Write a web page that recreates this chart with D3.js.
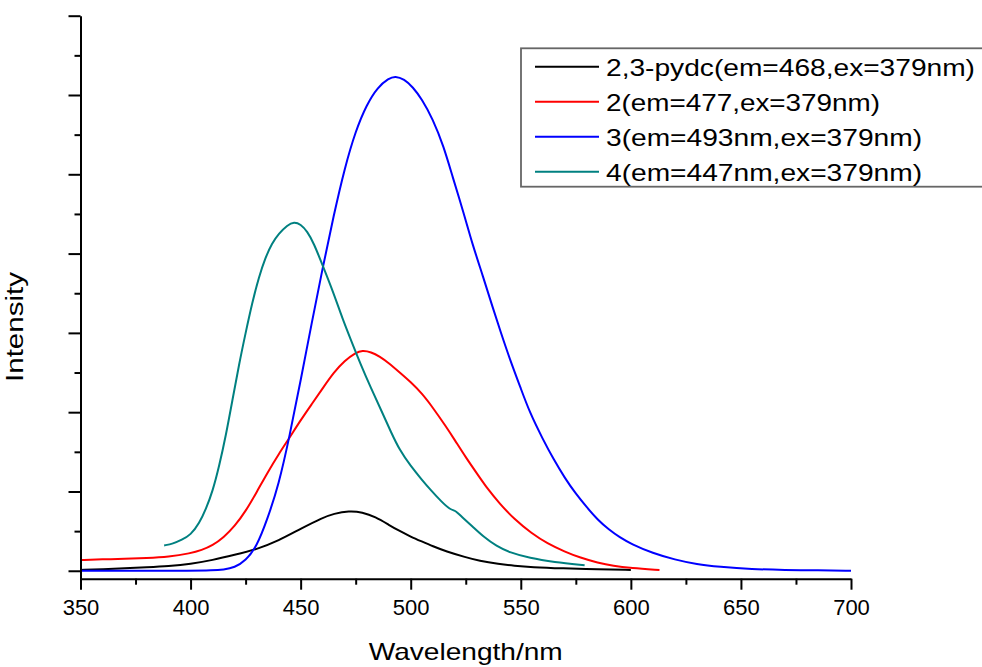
<!DOCTYPE html>
<html>
<head>
<meta charset="utf-8">
<script src="https://cdn.jsdelivr.net/npm/d3@7"></script>
<style>
  body { margin: 0; background: #fff; }
  svg { display: block; font-family: "Liberation Sans", Arial, sans-serif; }
</style>
</head>
<body>
<div id="chart"></div>
<script>
// 2,3-pydc
const pydcWl  = [350, 360, 370, 380, 390, 400, 410, 420, 430, 440, 450, 460, 465, 472, 478, 484, 490, 495, 500, 505, 510, 516, 525, 531, 540, 547, 555, 569, 585, 600];
const pydcInt = [0.01, 0.02, 0.03, 0.045, 0.06, 0.085, 0.135, 0.2, 0.27, 0.38, 0.53, 0.67, 0.72, 0.757, 0.74, 0.68, 0.58, 0.5, 0.43, 0.37, 0.31, 0.245, 0.17, 0.126, 0.085, 0.063, 0.045, 0.03, 0.018, 0.01];

// compound 2
const c2Wl  = [350, 360, 370, 380, 390, 400, 405, 410, 415, 420, 425, 430, 435, 440, 445, 450, 455, 460, 465, 470, 475, 478, 482, 486, 490, 495, 500, 505, 510, 516, 520, 525, 531, 535, 540, 547, 555, 562, 570, 577, 585, 592, 600, 613];
const c2Int = [0.135, 0.145, 0.15, 0.16, 0.175, 0.22, 0.26, 0.32, 0.42, 0.56, 0.75, 0.99, 1.24, 1.47, 1.68, 1.9, 2.1, 2.3, 2.5, 2.65, 2.75, 2.78, 2.76, 2.7, 2.62, 2.5, 2.38, 2.24, 2.06, 1.82, 1.65, 1.43, 1.19, 1.03, 0.86, 0.65, 0.47, 0.345, 0.24, 0.165, 0.1, 0.06, 0.035, 0.01];

// compound 3
const c3Wl  = [350, 380, 400, 410, 415, 420, 425, 430, 435, 440, 445, 450, 455, 460, 465, 470, 475, 480, 485, 490, 493, 497, 501, 505, 510, 515, 519, 524, 528, 533, 537, 541, 545, 550, 554, 560, 565, 570, 575, 580, 585, 590, 595, 600, 610, 620, 630, 640, 655, 670, 685, 700];
const c3Int = [0.0, 0.0, 0.0, 0.005, 0.015, 0.04, 0.13, 0.3, 0.66, 1.08, 1.7, 2.4, 3.12, 3.82, 4.48, 5.08, 5.55, 5.88, 6.1, 6.21, 6.24, 6.2, 6.1, 5.95, 5.7, 5.35, 4.97, 4.52, 4.12, 3.7, 3.34, 3.0, 2.67, 2.3, 2.0, 1.66, 1.4, 1.17, 0.97, 0.8, 0.64, 0.52, 0.42, 0.34, 0.22, 0.14, 0.08, 0.05, 0.02, 0.01, 0.005, 0.0];

// compound 4
const c4Wl  = [388, 392, 396, 400, 404, 407, 410, 413, 416, 419, 422, 425, 428, 431, 434, 437, 440, 444, 447, 450, 453, 456, 460, 465, 469, 473, 477, 482, 487, 491, 495, 500, 505, 509, 514, 518, 520, 521, 524, 528, 533, 539, 545, 554, 565, 579];
const c4Int = [0.32, 0.34, 0.39, 0.45, 0.6, 0.78, 1.0, 1.32, 1.7, 2.15, 2.6, 3.0, 3.38, 3.7, 3.95, 4.13, 4.25, 4.36, 4.4, 4.37, 4.28, 4.13, 3.85, 3.5, 3.18, 2.9, 2.62, 2.3, 2.0, 1.75, 1.52, 1.32, 1.15, 1.02, 0.87, 0.77, 0.76, 0.74, 0.66, 0.56, 0.43, 0.31, 0.23, 0.16, 0.11, 0.07];

const seriesNames = ["2,3-pydc(em=468,ex=379nm)", "2(em=477,ex=379nm)", "3(em=493nm,ex=379nm)", "4(em=447nm,ex=379nm)"];
const seriesColors = ["#000000", "#ff0000", "#0000ff", "#008080"];
const xTicks = [350, 400, 450, 500, 550, 600, 650, 700];

const series = [
  { wl: pydcWl, val: pydcInt },
  { wl: c2Wl, val: c2Int },
  { wl: c3Wl, val: c3Int },
  { wl: c4Wl, val: c4Int }
].map((s, i) => ({
  name: seriesNames[i],
  color: seriesColors[i],
  points: s.wl.map((w, j) => ({ x: w, y: s.val[j] }))
}));

const width = 982;
const height = 667;
const plotLeft = 80.5, plotRight = 851, plotTop = 15.7, plotBottom = 578.7;

const x = d3.scaleLinear().domain([350, 700]).range([plotLeft, plotRight]);
const y = d3.scaleLinear().domain([-0.1, 7]).range([plotBottom, plotTop]);

const svg = d3.select("#chart")
  .append("svg")
  .attr("width", width)
  .attr("height", height)
  .attr("viewBox", [0, 0, width, height]);

// curves
const line = d3.line()
  .x(d => x(d.x))
  .y(d => y(d.y))
  .curve(d3.curveBasis);

svg.append("g")
  .selectAll("path")
  .data(series)
  .join("path")
  .attr("fill", "none")
  .attr("stroke", d => d.color)
  .attr("stroke-width", 2)
  .attr("stroke-linejoin", "round")
  .attr("d", d => line(d.points));

// x axis: minor then major
svg.append("g")
  .attr("transform", `translate(0,${plotBottom})`)
  .call(d3.axisBottom(x).tickValues(d3.range(375, 700, 50)).tickSize(6).tickFormat(""))
  .call(g => g.select(".domain").remove())
  .call(g => g.selectAll(".tick line").attr("stroke-width", 2));

svg.append("g")
  .attr("transform", `translate(0,${plotBottom})`)
  .call(d3.axisBottom(x).tickValues(xTicks).tickSize(11).tickSizeOuter(0).tickPadding(10))
  .call(g => g.select(".domain").attr("stroke-width", 2))
  .call(g => g.selectAll(".tick line").attr("stroke-width", 2))
  .call(g => g.selectAll("text")
    .attr("font-size", 22)
    .attr("font-family", "Liberation Sans, Arial, sans-serif")
    .attr("fill", "#000"));

// y axis: minor then major, no labels
svg.append("g")
  .attr("transform", `translate(${plotLeft},0)`)
  .call(d3.axisLeft(y).tickValues(d3.range(0.5, 7, 1)).tickSize(6).tickFormat(""))
  .call(g => g.select(".domain").remove())
  .call(g => g.selectAll(".tick line").attr("stroke-width", 2));

svg.append("g")
  .attr("transform", `translate(${plotLeft},0)`)
  .call(d3.axisLeft(y).tickValues(d3.range(0, 8, 1)).tickSize(12).tickSizeOuter(0).tickFormat(""))
  .call(g => g.select(".domain").attr("stroke-width", 2))
  .call(g => g.selectAll(".tick line").attr("stroke-width", 2));

// axis titles
svg.append("text")
  .attr("x", (plotLeft + plotRight) / 2)
  .attr("y", 660)
  .attr("text-anchor", "middle")
  .attr("font-size", 24)
  .attr("textLength", 194)
  .attr("lengthAdjust", "spacingAndGlyphs")
  .text("Wavelength/nm");

svg.append("text")
  .attr("transform", "translate(23,327) rotate(-90)")
  .attr("text-anchor", "middle")
  .attr("font-size", 23)
  .attr("textLength", 110)
  .attr("lengthAdjust", "spacingAndGlyphs")
  .text("Intensity");

// legend
const legendWidths = [369, 274, 316, 316];
const legend = svg.append("g");

legend.append("rect")
  .attr("x", 521)
  .attr("y", 48.3)
  .attr("width", 480)
  .attr("height", 138.4)
  .attr("fill", "#fff")
  .attr("stroke", "#666")
  .attr("stroke-width", 1.8);

const rows = legend.selectAll("g.row")
  .data(series)
  .join("g")
  .attr("class", "row")
  .attr("transform", (d, i) => `translate(0,${66.7 + i * 35})`);

rows.append("line")
  .attr("x1", 535)
  .attr("x2", 599)
  .attr("stroke", d => d.color)
  .attr("stroke-width", 2);

rows.append("text")
  .attr("x", 606)
  .attr("y", 9)
  .attr("font-size", 24)
  .attr("textLength", (d, i) => legendWidths[i])
  .attr("lengthAdjust", "spacingAndGlyphs")
  .text(d => d.name);
</script>
</body>
</html>
